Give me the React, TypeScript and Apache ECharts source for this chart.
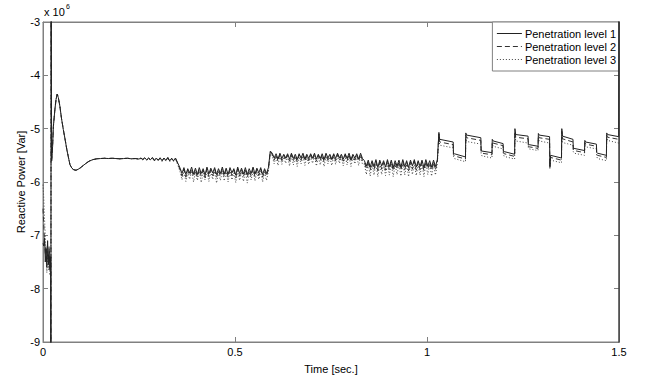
import React, { useEffect, useRef } from 'react';
import * as echarts from 'echarts';

const seriesNames = ['Penetration level 1', 'Penetration level 2', 'Penetration level 3'];
const xTickLabels = ['0', '0.5', '1', '1.5'];
const yTickLabels = ['-9', '-8', '-7', '-6', '-5', '-4', '-3'];

// initial segment (t = 0 .. 0.02 s), values in 1e6 Var
const initT = [0, 0.002, 0.004, 0.006, 0.008, 0.010, 0.012, 0.014, 0.016, 0.018, 0.020];
const init1 = [-7.15, -7.2, -7.05, -7.5, -7.25, -7.6, -7.1, -7.55, -7.3, -7.65, -7.4];
const init2 = [-6.5, -6.8, -7.1, -7.35, -7.2, -7.5, -7.3, -7.45, -7.2, -7.6, -7.45];
const init3 = [-6.05, -6.3, -6.7, -7.0, -7.4, -7.7, -7.35, -7.65, -7.4, -7.75, -7.5];

// switching spike
const spikeT = [0.0205, 0.0212];
const spikeV = [-9.6, -2.4];

// transient after switching
const transT = [0.0225, 0.025, 0.027, 0.031, 0.034, 0.037, 0.040, 0.044, 0.048, 0.053, 0.058, 0.062, 0.066, 0.070, 0.075, 0.080, 0.086, 0.092, 0.098, 0.105, 0.112, 0.120, 0.130, 0.140, 0.150, 0.160, 0.170, 0.180, 0.190, 0.200, 0.210, 0.220, 0.230, 0.240, 0.250];
const transV = [-5.6, -5.33, -4.96, -4.64, -4.45, -4.35, -4.42, -4.58, -4.8, -5.02, -5.22, -5.39, -5.53, -5.67, -5.74, -5.77, -5.78, -5.76, -5.73, -5.69, -5.65, -5.61, -5.58, -5.565, -5.56, -5.555, -5.56, -5.555, -5.56, -5.565, -5.56, -5.555, -5.565, -5.56, -5.57];

// flat noisy part, from 0.255 s every 5 ms
const flat1 = [-5.55, -5.575, -5.545, -5.585, -5.55, -5.58, -5.54, -5.595, -5.55, -5.59, -5.545, -5.6, -5.55, -5.595, -5.54, -5.605, -5.555, -5.6, -5.55];
const flat2 = [-5.555, -5.58, -5.55, -5.59, -5.555, -5.585, -5.545, -5.6, -5.555, -5.595, -5.55, -5.605, -5.555, -5.6, -5.545, -5.61, -5.56, -5.605, -5.555];
const flat3 = [-5.56, -5.585, -5.555, -5.595, -5.56, -5.59, -5.55, -5.61, -5.56, -5.6, -5.555, -5.615, -5.56, -5.61, -5.55, -5.62, -5.565, -5.615, -5.56];

// band B, from 0.352 s every 5 ms
const bandB1 = [-5.66, -5.74, -5.84, -5.73, -5.86, -5.75, -5.83, -5.72,
  -5.85, -5.74, -5.86, -5.73, -5.84, -5.75, -5.87, -5.72,
  -5.85, -5.74, -5.83, -5.73, -5.86, -5.75, -5.84, -5.72,
  -5.85, -5.74, -5.86, -5.73, -5.83, -5.75, -5.87, -5.72,
  -5.84, -5.74, -5.85, -5.73, -5.86, -5.75, -5.84, -5.72,
  -5.85, -5.74, -5.83, -5.73, -5.86, -5.75, -5.84, -5.73];
const bandB2 = [-5.68, -5.77, -5.89, -5.76, -5.91, -5.78, -5.88, -5.75,
  -5.90, -5.77, -5.91, -5.76, -5.89, -5.78, -5.92, -5.75,
  -5.90, -5.77, -5.88, -5.76, -5.91, -5.78, -5.89, -5.75,
  -5.90, -5.77, -5.91, -5.76, -5.88, -5.78, -5.92, -5.75,
  -5.89, -5.77, -5.90, -5.76, -5.91, -5.78, -5.89, -5.75,
  -5.90, -5.77, -5.88, -5.76, -5.91, -5.78, -5.89, -5.76];
const bandB3 = [-5.70, -5.81, -5.96, -5.80, -5.99, -5.82, -5.95, -5.79,
  -6.00, -5.81, -5.97, -5.80, -6.01, -5.83, -5.96, -5.79,
  -5.99, -5.81, -5.95, -5.80, -6.02, -5.82, -5.97, -5.79,
  -5.98, -5.81, -6.00, -5.80, -5.96, -5.83, -6.01, -5.79,
  -5.97, -5.81, -5.99, -5.80, -6.02, -5.82, -5.96, -5.79,
  -5.98, -5.81, -5.95, -5.80, -6.00, -5.82, -5.97, -5.80];

// band C, from 0.592 s every 5 ms
const bandC1 = [-5.42, -5.46, -5.55, -5.47, -5.57, -5.46, -5.56, -5.48,
  -5.55, -5.47, -5.57, -5.46, -5.56, -5.48, -5.58, -5.47,
  -5.55, -5.46, -5.57, -5.48, -5.56, -5.47, -5.55, -5.46,
  -5.57, -5.48, -5.56, -5.47, -5.58, -5.46, -5.55, -5.48,
  -5.57, -5.47, -5.56, -5.46, -5.55, -5.48, -5.57, -5.47,
  -5.56, -5.46, -5.58, -5.48, -5.55, -5.47, -5.57, -5.46, -5.56];
const bandC2 = [-5.43, -5.48, -5.59, -5.49, -5.61, -5.48, -5.60, -5.50,
  -5.59, -5.49, -5.61, -5.48, -5.60, -5.50, -5.62, -5.49,
  -5.59, -5.48, -5.61, -5.50, -5.60, -5.49, -5.59, -5.48,
  -5.61, -5.50, -5.60, -5.49, -5.62, -5.48, -5.59, -5.50,
  -5.61, -5.49, -5.60, -5.48, -5.59, -5.50, -5.61, -5.49,
  -5.60, -5.48, -5.62, -5.50, -5.59, -5.49, -5.61, -5.48, -5.60];
const bandC3 = [-5.45, -5.51, -5.66, -5.52, -5.69, -5.51, -5.67, -5.53,
  -5.65, -5.52, -5.70, -5.51, -5.68, -5.53, -5.71, -5.52,
  -5.66, -5.51, -5.69, -5.53, -5.67, -5.52, -5.65, -5.51,
  -5.70, -5.53, -5.68, -5.52, -5.71, -5.51, -5.66, -5.53,
  -5.69, -5.52, -5.67, -5.51, -5.65, -5.53, -5.70, -5.52,
  -5.68, -5.51, -5.71, -5.53, -5.66, -5.52, -5.69, -5.51, -5.67];

// band D, from 0.837 s every 5 ms
const bandD1 = [-5.60, -5.70, -5.59, -5.72, -5.60, -5.71, -5.58, -5.73,
  -5.59, -5.70, -5.60, -5.72, -5.58, -5.71, -5.59, -5.73,
  -5.60, -5.70, -5.59, -5.72, -5.58, -5.71, -5.60, -5.73,
  -5.59, -5.70, -5.58, -5.72, -5.60, -5.71, -5.59, -5.73,
  -5.58, -5.70, -5.60, -5.72, -5.59, -5.71, -5.58];
const bandD2 = [-5.62, -5.76, -5.61, -5.78, -5.63, -5.77, -5.61, -5.79,
  -5.62, -5.76, -5.63, -5.78, -5.61, -5.77, -5.62, -5.79,
  -5.63, -5.76, -5.62, -5.78, -5.61, -5.77, -5.63, -5.79,
  -5.62, -5.76, -5.61, -5.78, -5.63, -5.77, -5.62, -5.79,
  -5.61, -5.76, -5.63, -5.78, -5.62, -5.77, -5.61];
const bandD3 = [-5.66, -5.86, -5.65, -5.89, -5.67, -5.87, -5.65, -5.90,
  -5.66, -5.86, -5.67, -5.88, -5.65, -5.87, -5.66, -5.90,
  -5.67, -5.86, -5.66, -5.89, -5.65, -5.87, -5.67, -5.90,
  -5.66, -5.86, -5.65, -5.88, -5.67, -5.87, -5.66, -5.90,
  -5.65, -5.86, -5.67, -5.89, -5.66, -5.87, -5.65];

// step section after 1.03 s
const stepBounds = [1.031, 1.069, 1.101, 1.141, 1.170, 1.199, 1.229, 1.264, 1.290, 1.320, 1.351, 1.381, 1.411, 1.442, 1.468, 1.5];
const peak1 = [-5.07, -5.46, -5.08, -5.41, -5.20, -5.42, -5.00, -5.30, -5.09, -5.71, -5.00, -5.37, -5.22, -5.45, -5.08];
const level1 = [-5.20, -5.47, -5.12, -5.42, -5.23, -5.43, -5.11, -5.30, -5.12, -5.50, -5.14, -5.37, -5.25, -5.46, -5.11];
const end1 = [-5.25, -5.53, -5.17, -5.45, -5.28, -5.48, -5.14, -5.33, -5.15, -5.55, -5.20, -5.41, -5.29, -5.50, -5.15];
const peak2 = [-5.10, -5.49, -5.12, -5.44, -5.24, -5.45, -5.05, -5.33, -5.13, -5.73, -5.05, -5.40, -5.26, -5.49, -5.12];
const level2 = [-5.25, -5.51, -5.17, -5.46, -5.27, -5.47, -5.16, -5.34, -5.17, -5.54, -5.19, -5.41, -5.29, -5.50, -5.16];
const end2 = [-5.30, -5.57, -5.22, -5.49, -5.32, -5.52, -5.19, -5.37, -5.20, -5.59, -5.25, -5.45, -5.33, -5.54, -5.20];
const peak3 = [-5.14, -5.52, -5.16, -5.47, -5.28, -5.48, -5.10, -5.36, -5.17, -5.75, -5.10, -5.43, -5.30, -5.52, -5.16];
const level3 = [-5.31, -5.56, -5.24, -5.51, -5.33, -5.52, -5.23, -5.38, -5.23, -5.59, -5.26, -5.46, -5.34, -5.56, -5.22];
const end3 = [-5.36, -5.62, -5.29, -5.55, -5.38, -5.57, -5.27, -5.41, -5.27, -5.64, -5.31, -5.50, -5.38, -5.60, -5.27];

const endSpikeV = [-2.4, -9.6];

type Pt = [number, number];

function seg(start: number, step: number, vals: number[]): Pt[] {
  return vals.map((v, i) => [Math.round((start + i * step) * 10000) / 10000, v] as Pt);
}

function build(init: number[], flat: number[], b: number[], c: number[], d: number[],
  peak: number[], level: number[], end: number[], endSpike: boolean): Pt[] {
  const pts: Pt[] = [];
  initT.forEach((t, i) => pts.push([t, init[i]]));
  spikeT.forEach((t, i) => pts.push([t, spikeV[i]]));
  transT.forEach((t, i) => pts.push([t, transV[i]]));
  pts.push(...seg(0.255, 0.005, flat));
  pts.push(...seg(0.352, 0.005, b));
  pts.push(...seg(0.592, 0.005, c));
  pts.push(...seg(0.837, 0.005, d));
  for (let k = 0; k < peak.length; k++) {
    const ts = stepBounds[k];
    const te = stepBounds[k + 1];
    pts.push([ts, peak[k]]);
    pts.push([ts + 0.002, level[k]]);
    pts.push([te - 0.0008, end[k]]);
  }
  if (endSpike) endSpikeV.forEach((v) => pts.push([1.5, v]));
  return pts;
}

const FONT = "'Liberation Sans', Arial, sans-serif";
const GRAY = '#808080';

export default function App() {
  const ref = useRef<HTMLDivElement>(null);
  useEffect(() => {
    if (!ref.current) return;
    const chart = echarts.init(ref.current, undefined, { renderer: 'svg' });
    const s1 = build(init1, flat1, bandB1, bandC1, bandD1, peak1, level1, end1, true);
    const s2 = build(init2, flat2, bandB2, bandC2, bandD2, peak2, level2, end2, false);
    const s3 = build(init3, flat3, bandB3, bandC3, bandD3, peak3, level3, end3, false);
    const axisCommon = {
      type: 'value' as const,
      splitLine: { show: false },
      axisLine: { show: true, onZero: false, lineStyle: { color: GRAY, width: 1 } },
      axisTick: { show: true, inside: true, length: 5, lineStyle: { color: GRAY } },
    };
    chart.setOption({
      animation: false,
      backgroundColor: '#fff',
      textStyle: { fontFamily: FONT },
      grid: { left: 43, right: 34, top: 22, bottom: 36, show: true, borderColor: GRAY, borderWidth: 1, backgroundColor: 'transparent' },
      xAxis: [
        {
          ...axisCommon, min: 0, max: 1.5, interval: 0.5, position: 'bottom',
          axisLabel: { color: '#000', fontSize: 11, fontFamily: FONT, margin: 4,
            formatter: (v: number) => xTickLabels[Math.round(v / 0.5)] ?? '' },
          name: 'Time [sec.]', nameLocation: 'middle', nameGap: 21,
          nameTextStyle: { color: '#000', fontSize: 11, fontFamily: FONT },
        },
        { ...axisCommon, min: 0, max: 1.5, interval: 0.5, position: 'top', axisLabel: { show: false } },
      ],
      yAxis: [
        {
          ...axisCommon, min: -9, max: -3, interval: 1, position: 'left',
          axisLabel: { color: '#000', fontSize: 11, fontFamily: FONT, margin: 3,
            formatter: (v: number) => yTickLabels[Math.round(v + 9)] ?? '' },
          name: 'Reactive Power [Var]', nameLocation: 'middle', nameGap: 17,
          nameMoveOverlap: false,
          nameTextStyle: { color: '#000', fontSize: 11, fontFamily: FONT },
        },
        { ...axisCommon, min: -9, max: -3, interval: 1, position: 'right', axisLabel: { show: false } },
      ],
      legend: {
        data: seriesNames,
        orient: 'vertical',
        right: 34,
        top: 22,
        align: 'left',
        itemWidth: 25,
        itemHeight: 10,
        itemGap: 2,
        padding: [6, 3, 6, 4],
        borderColor: GRAY,
        borderWidth: 1,
        backgroundColor: '#fff',
        itemStyle: { opacity: 0, borderWidth: 0 },
        lineStyle: { width: 1 },
        textStyle: { color: '#000', fontSize: 11, fontFamily: FONT, padding: [0, 0, 0, -2] },
      },
      graphic: [
        { type: 'text', left: 44, top: 6, style: { text: 'x 10', fontSize: 11, fontFamily: FONT, fill: '#000' } },
        { type: 'text', left: 66, top: 3, style: { text: '6', fontSize: 7, fontFamily: FONT, fill: '#000' } },
      ],
      series: [
        { name: seriesNames[0], type: 'line', data: s1, symbol: 'none', z: 4,
          lineStyle: { color: '#222', width: 1, type: 'solid' }, itemStyle: { color: '#222' } },
        { name: seriesNames[1], type: 'line', data: s2, symbol: 'none', z: 3,
          lineStyle: { color: '#333', width: 1, type: [5, 3] }, itemStyle: { color: '#333' } },
        { name: seriesNames[2], type: 'line', data: s3, symbol: 'none', z: 2,
          lineStyle: { color: '#444', width: 1, type: [1, 2] }, itemStyle: { color: '#444' } },
      ],
    });
    return () => chart.dispose();
  }, []);
  return <div ref={ref} style={{ position: 'fixed', left: 0, top: 0, width: 653, height: 379 }} />;
}
